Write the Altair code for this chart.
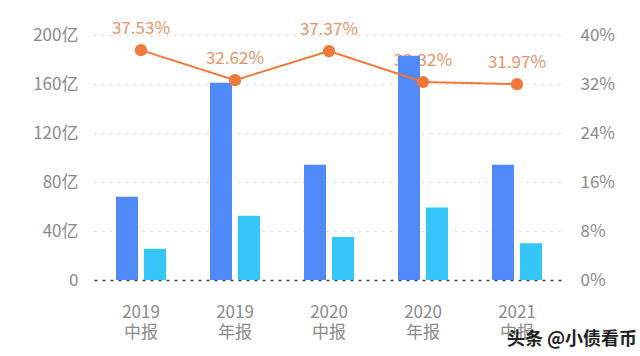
import altair as alt
import pandas as pd

periods = ["2019 中报", "2019 年报", "2020 中报", "2020 年报", "2021 中报"]
revenue = [68, 161, 94, 183, 94]
gross = [25.5, 52.5, 35.1, 59.1, 30.0]
margin = [37.53, 32.62, 37.37, 32.32, 31.97]
series = ["营收", "毛利"]
watermark = ["头条 @小债看币"]

bar_rows = []
for p, r, g in zip(periods, revenue, gross):
    bar_rows.append({"period": p, "series": series[0], "value": r})
    bar_rows.append({"period": p, "series": series[1], "value": g})
bars_df = pd.DataFrame(bar_rows)
line_df = pd.DataFrame({"period": periods, "margin": margin})
wm_df = pd.DataFrame({"t": watermark})

FONT = "Noto Sans CJK SC"
GRAY = "#8a8a8a"

xenc = alt.X(
    "period:N",
    sort=periods,
    scale=alt.Scale(paddingInner=0.468, paddingOuter=0.234),
    axis=alt.Axis(
        title=None,
        labelExpr="split(datum.label, ' ')",
        labelFontSize=17,
        labelColor=GRAY,
        labelFont=FONT,
        labelLineHeight=20,
        labelPadding=24,
        labelAngle=0,
        ticks=False,
        domainDash=[3, 5],
        domainColor="#444444",
        domainWidth=1.5,
    ),
)

text_layer = (
    alt.Chart(line_df)
    .transform_calculate(label="format(datum.margin, '.2f') + '%'")
    .mark_text(dy=-21, fontSize=17, color="#E8946A", font=FONT)
    .encode(
        x=xenc,
        y=alt.Y("margin:Q", scale=alt.Scale(domain=[0, 40]), axis=None),
        text="label:N",
    )
)

bars = (
    alt.Chart(bars_df)
    .mark_bar()
    .encode(
        x=xenc,
        xOffset=alt.XOffset("series:N", sort=series, scale=alt.Scale(paddingInner=0.214)),
        y=alt.Y(
            "value:Q",
            scale=alt.Scale(domain=[0, 200]),
            axis=alt.Axis(
                title=None,
                values=[0, 40, 80, 120, 160, 200],
                labelExpr="datum.value == 0 ? '0' : datum.value + '亿'",
                grid=True,
                gridDash=[2, 6],
                gridColor="#d4d4d4",
                domain=False,
                ticks=False,
                labelPadding=16,
                labelFontSize=17,
                labelColor=GRAY,
                labelFont=FONT,
            ),
        ),
        color=alt.Color(
            "series:N",
            sort=series,
            scale=alt.Scale(domain=series, range=["#5089F8", "#33C6F6"]),
            legend=None,
        ),
    )
)

line = (
    alt.Chart(line_df)
    .mark_line(color="#F0783A", strokeWidth=2, point=alt.OverlayMarkDef(color="#F0783A", size=150, filled=True, opacity=1))
    .encode(
        x=xenc,
        y=alt.Y(
            "margin:Q",
            scale=alt.Scale(domain=[0, 40]),
            axis=alt.Axis(
                orient="right",
                title=None,
                values=[0, 8, 16, 24, 32, 40],
                labelExpr="datum.value + '%'",
                grid=False,
                domain=False,
                ticks=False,
                labelPadding=16,
                labelFontSize=17,
                labelColor=GRAY,
                labelFont=FONT,
            ),
        ),
    )
)

wm = (
    alt.Chart(wm_df)
    .mark_text(align="center", fontSize=18, color="#222222", fontWeight="bold", font=FONT)
    .encode(x=alt.value(478), y=alt.value(305), text="t:N")
)

chart = (
    alt.layer(text_layer, bars, line, wm)
    .resolve_scale(y="independent")
    .properties(
        width=470,
        height=245,
        padding={"left": 94, "top": 35, "right": 76, "bottom": 76},
        autosize="none",
        background="#ffffff",
    )
    .configure_view(stroke=None)
)

chart.save("out.html", embed_options={"renderer": "svg", "actions": False})
